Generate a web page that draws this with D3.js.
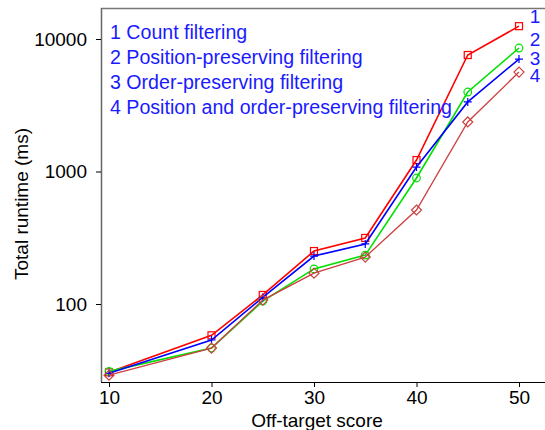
<!DOCTYPE html>
<html>
<head>
<meta charset="utf-8">
<script src="https://cdn.jsdelivr.net/npm/d3@7"></script>
<style>
  body { margin: 0; background: #fff; }
  svg { display: block; font-family: "Liberation Sans", Arial, sans-serif; }
</style>
</head>
<body>
<div class="chart"></div>
<script>
// data
const scores = [10, 20, 25, 30, 35, 40, 45, 50]
const countFiltering = [30.5, 58, 117, 251, 315, 1220, 7570, 12500]
const positionFiltering = [31, 46.5, 105, 184, 234, 893, 3980, 8550]
const orderFiltering = [30, 53.5, 112, 230, 284, 1080, 3350, 7060]
const bothFiltering = [29, 46.5, 107, 171, 226, 512, 2365, 5630]
const seriesNames = ["Count filtering", "Position-preserving filtering", "Order-preserving filtering", "Position and order-preserving filtering"]
const xTicks = [10, 20, 30, 40, 50]
const yTicks = [100, 1000, 10000]

const series = [
  { id: "1", values: countFiltering, color: "#ff0000", marker: "square", width: 1.6 },
  { id: "2", values: positionFiltering, color: "#00e000", marker: "circle", width: 1.6 },
  { id: "3", values: orderFiltering, color: "#0000ff", marker: "plus", width: 1.6 },
  { id: "4", values: bothFiltering, color: "#cc4040", marker: "diamond", width: 1.3 }
]

const W = 545, H = 430
const plotLeft = 101, plotTop = 8, plotRight = 545, plotBottom = 382

const svg = d3.select(".chart")
  .append("svg")
  .attr("width", W)
  .attr("height", H)

const x = d3.scaleLinear()
  .domain([10, 50])
  .range([109, 519])

const y = d3.scaleLog()
  .domain([100, 10000])
  .range([304, 39])

// frame: grey top/left, black bottom
svg.append("line")
  .attr("x1", plotLeft).attr("x2", plotRight).attr("y1", plotTop + 0.5).attr("y2", plotTop + 0.5)
  .attr("stroke", "#777").attr("stroke-width", 1.5)

// x axis
const xAxis = svg.append("g")
  .attr("transform", `translate(0,${plotBottom})`)
  .call(d3.axisBottom(x).tickValues(xTicks).tickSize(5).tickPadding(4).tickSizeOuter(0))
xAxis.select(".domain").attr("d", `M${plotLeft},0.5H${plotRight}`).attr("stroke", "#000").attr("stroke-width", 1.2)
xAxis.selectAll("text").attr("font-size", 19).attr("fill", "#000").attr("font-family", "Liberation Sans, Arial, sans-serif")

// y axis
const yAxis = svg.append("g")
  .attr("transform", `translate(${plotLeft},0)`)
  .call(d3.axisLeft(y).tickValues(yTicks).tickFormat(d3.format("d")).tickSize(5).tickPadding(9).tickSizeOuter(0))
yAxis.select(".domain").attr("d", `M0.5,${plotTop}V${plotBottom}`).attr("stroke", "#666").attr("stroke-width", 1.5)
yAxis.selectAll("text").attr("font-size", 19).attr("fill", "#000").attr("font-family", "Liberation Sans, Arial, sans-serif")

// axis titles
svg.append("text")
  .attr("x", 317).attr("y", 427)
  .attr("text-anchor", "middle")
  .attr("font-size", 19)
  .text("Off-target score")

svg.append("text")
  .attr("transform", `translate(28,204) rotate(-90)`)
  .attr("text-anchor", "middle")
  .attr("font-size", 19)
  .text("Total runtime (ms)")

// lines and markers
const line = d3.line()
  .x((d, i) => x(scores[i]))
  .y(d => y(d))

series.forEach(s => {
  svg.append("path")
    .datum(s.values)
    .attr("fill", "none")
    .attr("stroke", s.color)
    .attr("stroke-width", s.width)
    .attr("d", line)

  const g = svg.append("g")
    .attr("fill", "none")
    .attr("stroke", s.color)
    .attr("stroke-width", 1.2)

  s.values.forEach((v, i) => {
    const cx = x(scores[i]), cy = y(v)
    if (s.marker == "square") {
      g.append("rect").attr("x", cx - 3.5).attr("y", cy - 3.5).attr("width", 7).attr("height", 7)
    } else if (s.marker == "circle") {
      g.append("circle").attr("cx", cx).attr("cy", cy).attr("r", 3.8)
    } else if (s.marker == "plus") {
      g.append("path").attr("d", `M${cx - 4},${cy}H${cx + 4}M${cx},${cy - 4}V${cy + 4}`)
    } else {
      g.append("path").attr("d", `M${cx},${cy - 5}L${cx + 5},${cy}L${cx},${cy + 5}L${cx - 5},${cy}Z`)
    }
  })
})

// series numbers at right end
const endLabelY = [23, 46, 65, 82]
series.forEach((s, i) => {
  svg.append("text")
    .attr("x", 535).attr("y", endLabelY[i])
    .attr("text-anchor", "middle")
    .attr("font-size", 19)
    .attr("fill", "#1a1aff")
    .text(s.id)
})

// legend text
seriesNames.forEach((name, i) => {
  svg.append("text")
    .attr("x", 110).attr("y", 39 + i * 25)
    .attr("font-size", 19.6)
    .attr("fill", "#1a1aff")
    .text(`${i + 1} ${name}`)
})
</script>
</body>
</html>
